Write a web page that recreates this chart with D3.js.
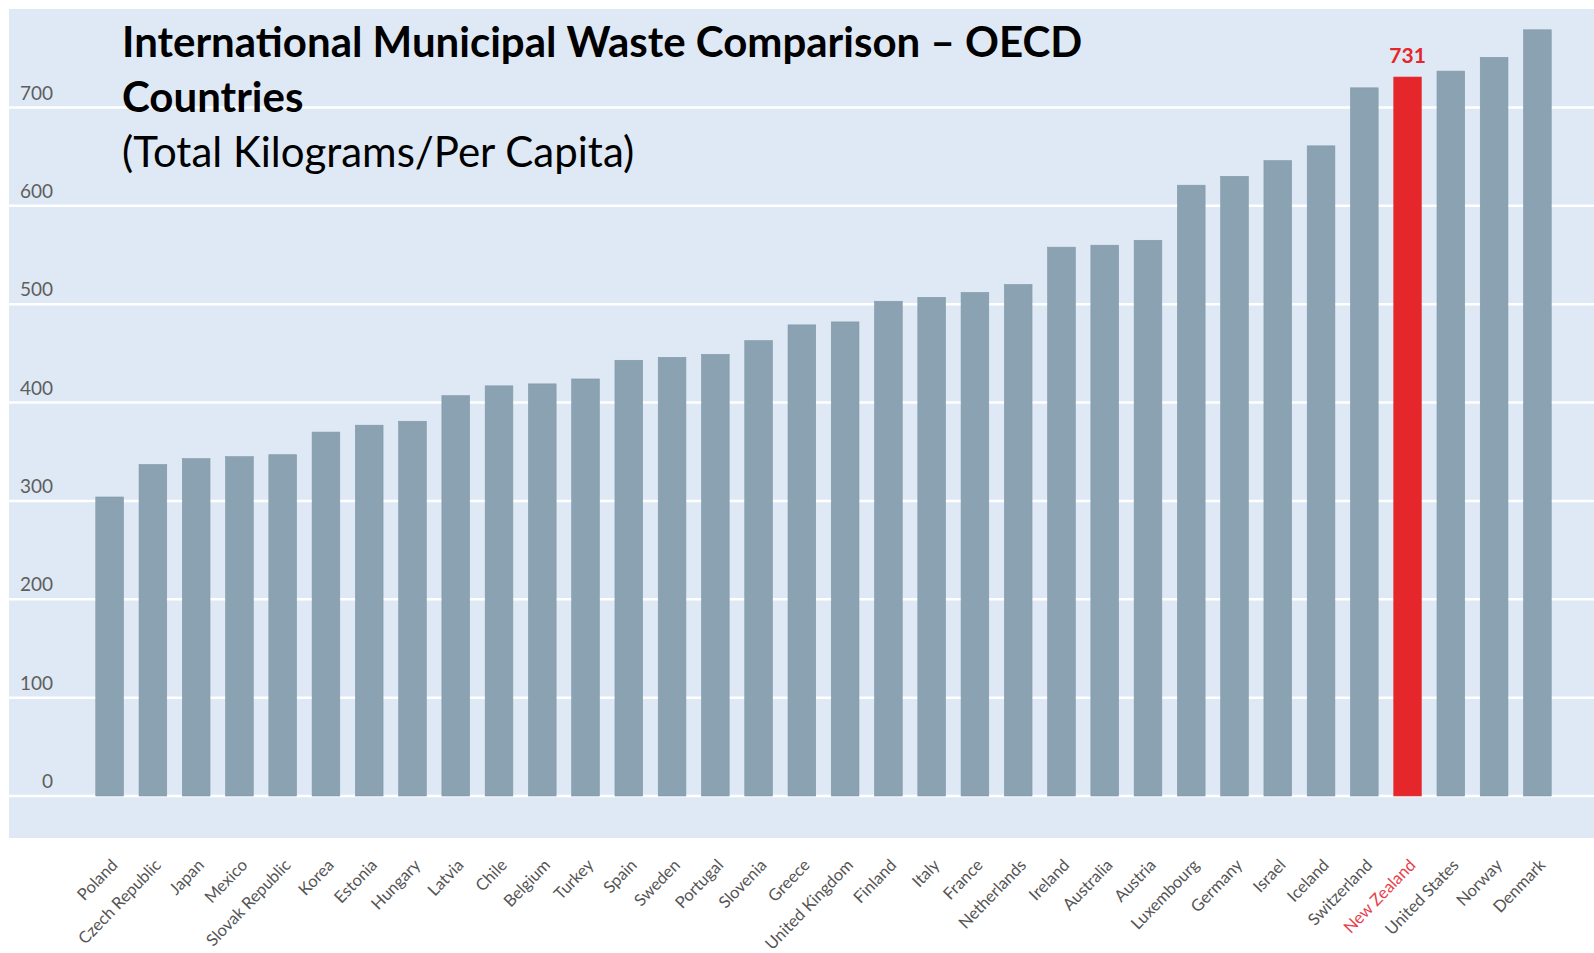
<!DOCTYPE html>
<html>
<head>
<meta charset="utf-8">
<script src="https://cdn.jsdelivr.net/npm/d3@7"></script>
<style>
	html, body { margin: 0; padding: 0; background: #fff; }
	svg { display: block; font-family: Lato, "Open Sans", sans-serif; }
</style>
</head>
<body>
<div id="chart"></div>
<script>
// OECD municipal waste, kg per capita
const countries = ["Poland", "Czech Republic", "Japan", "Mexico", "Slovak Republic", "Korea", "Estonia", "Hungary",
	"Latvia", "Chile", "Belgium", "Turkey", "Spain", "Sweden", "Portugal", "Slovenia", "Greece", "United Kingdom",
	"Finland", "Italy", "France", "Netherlands", "Ireland", "Australia", "Austria", "Luxembourg", "Germany", "Israel",
	"Iceland", "Switzerland", "New Zealand", "United States", "Norway", "Denmark"];
const values = [304, 337, 343, 345, 347, 370, 377, 381,
	407, 417, 419, 424, 443, 446, 449, 463, 479, 482,
	503, 507, 512, 520, 558, 560, 565, 621, 630, 646,
	661, 720, 731, 737, 751, 779];
const yTicks = [0, 100, 200, 300, 400, 500, 600, 700];
const highlight = "New Zealand";
const titleLines = ["International Municipal Waste Comparison \u2013 OECD", "Countries"];
const subtitle = "(Total Kilograms/Per Capita)";

const width = 1594, height = 953;
const panel = {x: 9, y: 9, w: 1594 - 9, h: 838 - 9};

const svg = d3.select("#chart").append("svg")
	.attr("width", width)
	.attr("height", height);

var x = d3.scaleBand()
	.domain(countries)
	.range([88, 1559])
	.paddingInner(0.36)
	.paddingOuter(0.18);

var y = d3.scaleLinear()
	.domain([0, 700])
	.range([796, 107.5]);

// background panel
svg.append("rect")
	.attr("x", panel.x).attr("y", panel.y)
	.attr("width", panel.w).attr("height", panel.h)
	.attr("fill", "#dee9f5");

// gridlines
svg.append("g").selectAll("line")
	.data(yTicks)
	.enter().append("line")
	.attr("x1", panel.x).attr("x2", panel.x + panel.w)
	.attr("y1", d => y(d)).attr("y2", d => y(d))
	.attr("stroke", "#ffffff")
	.attr("stroke-width", 2.5);

// y labels sit just above their gridline
svg.append("g").selectAll("text")
	.data(yTicks)
	.enter().append("text")
	.attr("x", 53)
	.attr("y", d => y(d) - 8)
	.attr("text-anchor", "end")
	.attr("font-size", 19)
	.attr("fill", "#5e5e5e")
	.text(d => d);

// bars
svg.append("g").selectAll("rect")
	.data(countries)
	.enter().append("rect")
	.attr("x", d => x(d))
	.attr("y", (d, i) => y(values[i]))
	.attr("width", x.bandwidth())
	.attr("height", (d, i) => y(0) - y(values[i]))
	.attr("fill", d => d === highlight ? "#e5262a" : "#8aa2b1")
	.attr("stroke", d => d === highlight ? "#e03a3e" : "#8198a7")
	.attr("stroke-width", 0.6);

// value label on the highlighted bar
const hi = countries.indexOf(highlight);
svg.append("text")
	.attr("x", x(highlight) + x.bandwidth() / 2)
	.attr("y", y(values[hi]) - 14)
	.attr("text-anchor", "middle")
	.attr("font-size", 21)
	.attr("font-weight", "bold")
	.attr("fill", "#e5262a")
	.text(values[hi]);

// x labels, rotated
svg.append("g").selectAll("text")
	.data(countries)
	.enter().append("text")
	.attr("transform", d => "translate(" + (x(d) + x.bandwidth() / 2 + 9) + ",866) rotate(-46)")
	.attr("text-anchor", "end")
	.attr("font-size", 16.5)
	.attr("fill", d => d === highlight ? "#e8404a" : "#555")
	.text(d => d);

// title
svg.append("g").selectAll("text")
	.data(titleLines)
	.enter().append("text")
	.attr("x", 122)
	.attr("y", (d, i) => 57 + i * 55)
	.attr("font-size", 42)
	.attr("font-weight", "bold")
	.attr("fill", "#000")
	.text(d => d);

svg.append("text")
	.attr("x", 122)
	.attr("y", 167)
	.attr("font-size", 42)
	.attr("fill", "#000")
	.text(subtitle);
</script>
</body>
</html>
